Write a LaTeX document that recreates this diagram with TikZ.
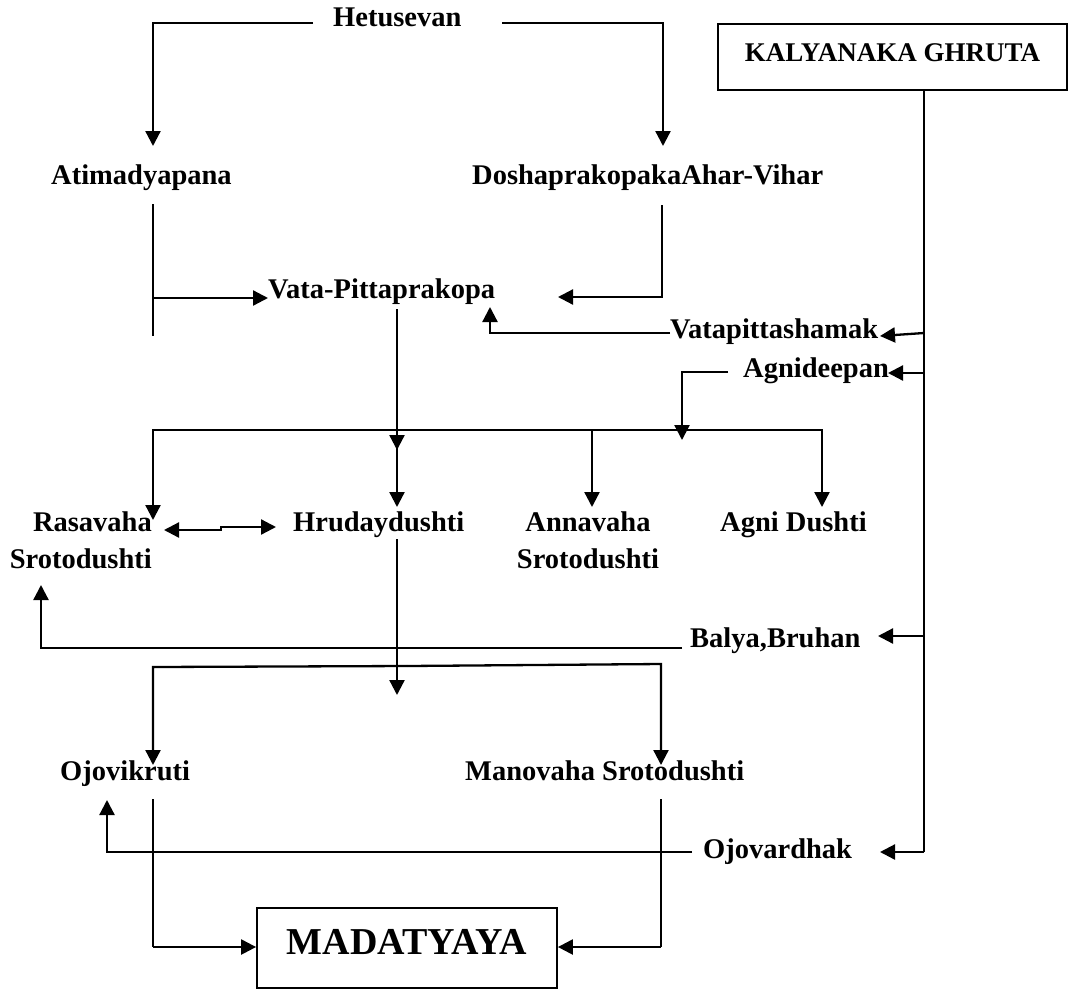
\documentclass[tikz,border=0pt]{standalone}
\usepackage{fontspec}
\setmainfont{Liberation Serif}
\usetikzlibrary{arrows.meta}
\begin{document}
\begin{tikzpicture}[x=1pt,y=-1pt,
  lbl/.style={inner sep=0pt, font=\fontsize{28.5}{37}\selectfont\bfseries},
  boxnode/.style={draw, line width=1.8pt, inner sep=0pt},
  conn/.style={line width=2.3pt},
  thinconn/.style={line width=1.8pt},
  arr/.style={conn, -{Triangle[length=15pt,width=15pt]}},
  darr/.style={conn, {Triangle[length=15pt,width=15pt]}-{Triangle[length=15pt,width=15pt]}},
]
\useasboundingbox (0,0) rectangle (1073,991);

% nodes
\node[lbl,anchor=base west] (hetu) at (333,26) {Hetusevan};
\node[lbl,anchor=base west] (atim) at (51,184) {Atimadyapana};
\node[lbl,anchor=base west] (dosha) at (472,184) {DoshaprakopakaAhar-Vihar};
\node[boxnode, minimum width=349pt, minimum height=66pt, anchor=north west,
      text height=18pt, text depth=8pt, font=\fontsize{27}{32}\selectfont\bfseries]
      (kg) at (717,23) {KALYANAKA GHRUTA};
\node[lbl,anchor=base west] (vp) at (268,298) {Vata-Pittaprakopa};
\node[lbl,anchor=base west] (vps) at (670,338) {Vatapittashamak};
\node[lbl,anchor=base west] (agd) at (743,377) {Agnideepan};
\node[lbl,anchor=base east,align=right] (ras) at (152,568) {Rasavaha\\Srotodushti};
\node[lbl,anchor=base west] (hru) at (293,531) {Hrudaydushti};
\node[lbl,anchor=base,align=center] (anna) at (588,568) {Annavaha\\Srotodushti};
\node[lbl,anchor=base west] (agni) at (720,531) {Agni Dushti};
\node[lbl,anchor=base west] (balya) at (690,647) {Balya,Bruhan};
\node[lbl,anchor=base west] (ojov) at (60,780) {Ojovikruti};
\node[lbl,anchor=base west] (mano) at (465,780) {Manovaha Srotodushti};
\node[lbl,anchor=base west] (ojod) at (703,858) {Ojovardhak};
\node[boxnode, minimum width=300pt, minimum height=80pt,
      text height=25pt, text depth=13pt, font=\fontsize{38}{42}\selectfont\bfseries]
      (mad) at (407,948) {MADATYAYA};

% connectors
\draw[arr] (313,23) -- (153,23) -- (153,146);
\draw[arr] (502,23) -- (663,23) -- (663,146);

\draw[thinconn] (153,204) -- (153,336);
\draw[arr] (153,298) -- (vp.west |- 0,298);

\draw[arr] (662,205) -- (662,297) -- (558,297);

\draw[arr] (397,309) -- (397,450);
\draw[arr] (397,440) -- (397,507);

\draw[arr] (vps.west |- 0,333) -- (490,333) -- (490,307);

\draw[thinconn] (kg.south -| 924,0) -- (924,852);
\draw[arr] (924,333) -- (880,336);
\draw[arr] (924,373) -- (888,373);
\draw[arr] (924,636) -- (878,636);
\draw[arr] (924,852) -- (880,852);

\draw[arr] (728,372) -- (682,372) -- (682,440);

\draw[arr] (592,430) -- (153,430) -- (153,520);
\draw[arr] (592,430) -- (822,430) -- (822,507);
\draw[arr] (592,430) -- (592,507);

\draw[darr] (164,530) -- (221,530) -- (221,527) -- (276,527);

\draw[arr] (397,539) -- (397,695);

\draw[arr] (682,648) -- (41,648) -- (41,585);

\draw[arr] (407,666) -- (153,667) -- (153,765);
\draw[arr] (407,666) -- (661,664) -- (661,765);

\draw[thinconn] (153,799) -- (153,947);
\draw[arr] (153,947) -- (mad.west |- 0,947);
\draw[thinconn] (661,799) -- (661,947);
\draw[arr] (661,947) -- (mad.east |- 0,947);

\draw[arr] (692,852) -- (107,852) -- (107,800);
\end{tikzpicture}
\end{document}
